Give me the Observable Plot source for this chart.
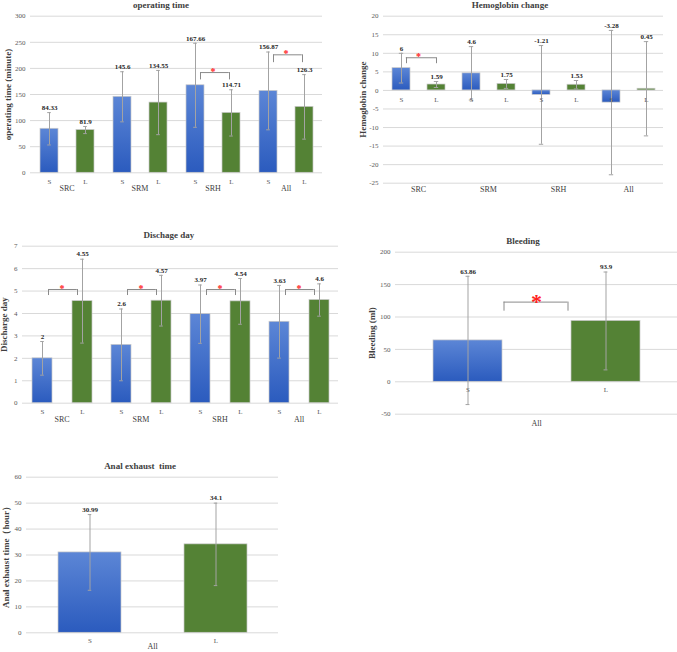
<!DOCTYPE html>
<html><head><meta charset="utf-8">
<script src="https://cdn.jsdelivr.net/npm/d3@7"></script>
<script src="https://cdn.jsdelivr.net/npm/@observablehq/plot@0.6"></script>
<style>
body{margin:0;background:#fff;width:677px;height:652px;position:relative;overflow:hidden;font-family:'Liberation Serif','Times New Roman',serif;}
.panel{position:absolute;}
.title{position:absolute;transform:translate(-50%,-50%);font-weight:bold;font-size:9px;color:#404040;white-space:pre;}
[aria-label="y-axis label"]{font-weight:bold;font-size:9px;fill:#404040;}
</style></head><body>
<svg width="0" height="0" style="position:absolute">
  <defs>
    <linearGradient id="blueGrad" x1="0" y1="0" x2="0" y2="1">
      <stop offset="0" stop-color="#5C86D6"/>
      <stop offset="1" stop-color="#2B5BBE"/>
    </linearGradient>
  </defs>
</svg>
<script>
// ---- data ----
const groups = ["SRC", "SRM", "SRH", "All"];
const arms = ["S", "L"];

// operating time (minute): S,L per group
const opMean = [84.33, 81.9, 145.6, 134.55, 167.66, 114.71, 156.87, 126.3];
const opSD   = [31, 6.8, 48, 61.5, 80.5, 44.3, 74.5, 61.8];
const opTicks = [0, 50, 100, 150, 200, 250, 300];
const opSigGroups = ["SRH", "All"];
const opSigTop = [192, 226];
const opSigLeg = [178, 211];

// hemoglobin change
const hbMean = [6, 1.59, 4.6, 1.75, -1.21, 1.53, -3.28, 0.45];
const hbSD   = [4, 0.8, 7.2, 1.2, 13.3, 1.14, 19.45, 12.7];
const hbTicks = [20, 15, 10, 5, 0, -5, -10, -15, -20, -25];
const hbSigGroups = ["SRC"];
const hbSigTop = [8.8];
const hbSigLeg = [7.2];

// discharge day
const dcMean = [2, 4.55, 2.6, 4.57, 3.97, 4.54, 3.63, 4.6];
const dcSD   = [0.75, 1.87, 1.6, 1.13, 1.3, 1.02, 1.62, 0.72];
const dcTicks = [0, 1, 2, 3, 4, 5, 6, 7];
const dcSigGroups = ["SRC", "SRM", "SRH", "All"];
const dcSigTop = [5.07, 5.07, 5.07, 5.07];
const dcSigLeg = [4.8, 4.8, 4.8, 4.8];

// bleeding (ml), All
const blMean = [63.86, 93.9];
const blSD   = [99, 75.5];
const blTicks = [-50, 0, 50, 100, 150, 200];
const blSigGroups = ["All"];
const blSigTop = [123];
const blSigLeg = [109];

// anal exhaust time (hour), All
const aeMean = [30.99, 34.1];
const aeSD   = [14.6, 15.9];
const aeTicks = [0, 10, 20, 30, 40, 50, 60];

// ---- helpers ----
function rowsOf(grps, means, sds) {
  const out = [];
  means.forEach((m, i) => out.push({group: grps[Math.floor(i / 2)], arm: arms[i % 2], mean: m, sd: sds[i]}));
  return out;
}
function sigOf(g, top, leg) { return g.map((d, i) => ({group: d, top: top[i], leg: leg[i]})); }

function panel(cfg) {
  const faceted = cfg.faceted;
  const fx = faceted ? "group" : undefined;
  const rows = cfg.rows;
  const errStroke = "#a3a3a3";
  const brStroke = "#8a8a8a";
  const marks = [
    Plot.gridY(cfg.yTicks, {stroke: "#d9d9d9", strokeOpacity: 1}),
    Plot.barY(rows.filter(d => d.arm === "S"), {fx, x: "arm", y: "mean", fill: "url(#blueGrad)", stroke: "#c9c9c9", strokeWidth: 0.7}),
    Plot.barY(rows.filter(d => d.arm === "L"), {fx, x: "arm", y: "mean", fill: "#548235", stroke: "#c9c9c9", strokeWidth: 0.7}),
    Plot.ruleX(rows, {fx, x: "arm", y1: d => d.mean - d.sd, y2: d => d.mean + d.sd, stroke: errStroke, strokeWidth: 1}),
    Plot.tickY(rows, {fx, x: "arm", y: d => d.mean + d.sd, stroke: errStroke, inset: cfg.bw / 2 - 2}),
    Plot.tickY(rows, {fx, x: "arm", y: d => d.mean - d.sd, stroke: errStroke, inset: cfg.bw / 2 - 2}),
    Plot.text(rows, {fx, x: "arm", y: d => d.mean + d.sd, text: d => String(d.mean), dy: -5, fontWeight: "bold", fontSize: 7, fill: "#262626"}),
    Plot.text(rows, {fx, x: "arm", y: () => 0, text: "arm", dy: cfg.armDy, fontSize: 7, fill: "#595959"})
  ];
  if (faceted) {
    marks.push(Plot.text(groups, {fx: d => d, frameAnchor: "bottom", text: d => d, dy: cfg.groupDy, fontSize: 8, fill: "#404040"}));
  } else {
    marks.push(Plot.text(["All"], {frameAnchor: "bottom", text: d => d, dy: cfg.groupDy, fontSize: 8, fill: "#404040"}));
  }
  if (cfg.sig) {
    const b = cfg.sig;
    marks.push(
      Plot.ruleY(b, {fx, y: "top", x1: () => "S", x2: () => "L", insetLeft: cfg.bw / 2 + cfg.oL, insetRight: cfg.bw / 2 + cfg.oR, stroke: brStroke}),
      Plot.ruleX(b, {fx, x: () => "S", y1: "leg", y2: "top", dx: cfg.oL, stroke: brStroke}),
      Plot.ruleX(b, {fx, x: () => "L", y1: "leg", y2: "top", dx: -cfg.oR, stroke: brStroke}),
      Plot.text(b, {fx, y: "top", text: () => "*", fill: "#ff2020", fontWeight: "bold", fontSize: cfg.starSize, dy: cfg.starDy})
    );
  }
  const svg = Plot.plot({
    width: cfg.width, height: cfg.height,
    marginTop: cfg.mT, marginBottom: cfg.mB, marginLeft: cfg.mL, marginRight: cfg.mR,
    style: {fontFamily: "'Liberation Serif','Times New Roman',serif", fontSize: "7px", color: "#595959", background: "transparent", overflow: "visible"},
    fx: faceted ? {domain: groups, padding: 0, axis: null} : undefined,
    x: {domain: arms, paddingInner: 0.5, paddingOuter: cfg.po, axis: null},
    y: {domain: cfg.yDomain, ticks: cfg.yTicks, tickFormat: d => String(d), tickSize: 0, tickPadding: 5, label: cfg.yLabel, labelAnchor: "center", labelOffset: cfg.labelOffset, labelArrow: "none"},
    marks
  });
  const div = document.createElement("div");
  div.className = "panel";
  div.style.left = cfg.left + "px";
  div.style.top = cfg.top + "px";
  div.appendChild(svg);
  document.body.appendChild(div);
  const t = document.createElement("div");
  t.className = "title";
  t.textContent = cfg.title;
  t.style.left = cfg.tx + "px";
  t.style.top = cfg.ty + "px";
  document.body.appendChild(t);
}

panel({
  title: "operating time", tx: 161, ty: 5,
  left: 0, top: 0, width: 330, height: 200, mT: 15.7, mB: 27.7, mL: 28, mR: 7,
  faceted: true, rows: rowsOf(groups, opMean, opSD), po: 0.25, bw: 18.4,
  yDomain: [0, 300], yTicks: opTicks, yLabel: "operating time (minute)", labelOffset: 26,
  armDy: 9.4, groupDy: 18.4,
  sig: sigOf(opSigGroups, opSigTop, opSigLeg), oL: 5, oR: 2, starSize: 10, starDy: -1
});
panel({
  title: "Hemoglobin change", tx: 510, ty: 5,
  left: 340, top: 0, width: 337, height: 200, mT: 15.7, mB: 17.3, mL: 42, mR: 13,
  faceted: true, rows: rowsOf(groups, hbMean, hbSD), po: 0.25, bw: 17.6,
  yDomain: [-25, 20], yTicks: hbTicks, yLabel: "Hemoglobin change", labelOffset: 23.5,
  armDy: 9.1, groupDy: 8.3,
  sig: sigOf(hbSigGroups, hbSigTop, hbSigLeg), oL: 5, oR: 0, starSize: 10, starDy: -1
});
panel({
  title: "Dischage day", tx: 169, ty: 235,
  left: 0, top: 225, width: 340, height: 200, mT: 20.7, mB: 22.3, mL: 22, mR: 2,
  faceted: true, rows: rowsOf(groups, dcMean, dcSD), po: 0.22, bw: 20.4,
  yDomain: [0, 7], yTicks: dcTicks, yLabel: "Discharge day", labelOffset: 21.5,
  armDy: 9, groupDy: 18.3,
  sig: sigOf(dcSigGroups, dcSigTop, dcSigLeg), oL: 6, oR: 5, starSize: 10, starDy: -1
});
panel({
  title: "Bleeding", tx: 523, ty: 241,
  left: 340, top: 225, width: 337, height: 205, mT: 26.7, mB: 16.3, mL: 55, mR: 0,
  faceted: false, rows: rowsOf(["All"], blMean, blSD), po: 0.27, bw: 69.1,
  yDomain: [-50, 200], yTicks: blTicks, yLabel: "Bleeding (ml)", labelOffset: 26.5,
  armDy: 7.7, groupDy: 11.3,
  sig: sigOf(blSigGroups, blSigTop, blSigLeg), oL: 36, oR: 38, starSize: 22, starDy: 0
});
panel({
  title: "Anal exhaust  time", tx: 140, ty: 466,
  left: 0, top: 430, width: 340, height: 222, mT: 46.7, mB: 19.7, mL: 26, mR: 62,
  faceted: false, rows: rowsOf(["All"], aeMean, aeSD), po: 0.25, bw: 63.5,
  yDomain: [0, 60], yTicks: aeTicks, yLabel: "Anal exhaust time（hour）", labelOffset: 23.5,
  armDy: 8.4, groupDy: 15.7,
  sig: null
});
</script>
</body></html>
